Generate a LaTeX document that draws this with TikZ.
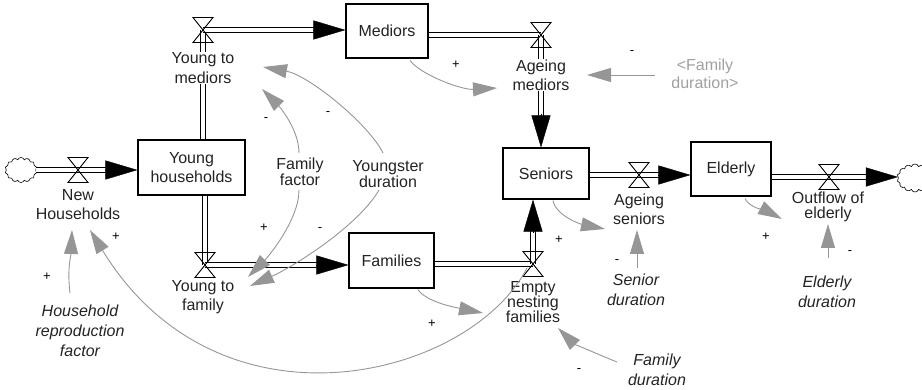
\documentclass[tikz,border=0pt]{standalone}
\usepackage{fontspec}
\setmainfont{Liberation Sans}
\usetikzlibrary{arrows.meta,calc,shapes.symbols}
\definecolor{cgray}{RGB}{150,150,150}
\definecolor{lgray}{RGB}{160,160,160}
\definecolor{txt}{RGB}{35,35,35}
\begin{document}
\begin{tikzpicture}[x=1pt,y=-1pt,
  every node/.style={font=\fontsize{16}{19}\selectfont, text=txt},
  stock/.style={draw=black, line width=1.1pt, fill=white, align=center, inner sep=0pt},
  lab/.style={align=center, inner sep=0.5pt},
  ital/.style={align=center, inner sep=0.5pt, font=\fontsize{16}{20}\selectfont\itshape},
  sign/.style={font=\fontsize{13}{13}\selectfont, text=black, inner sep=0pt},
  pipe/.style={draw=black, line width=1pt, double=white, double distance=4pt},
  fhead/.style={-{Triangle[length=32pt,width=19pt]}, line width=0.4pt, draw=black, fill=black},
  causal/.style={draw=cgray, line width=0.9pt, -{Triangle[length=24pt,width=14pt]}},
  cloudst/.style={cloud, cloud puffs=14, cloud puff arc=140, aspect=1.25, draw=black, line width=0.6pt, fill=white, inner sep=0pt},
  valve/.pic={\draw[line width=0.9pt] (-10,-12.5) -- (10,-12.5) -- (-10,12.5) -- (10,12.5) -- cycle;}
]
\useasboundingbox (0,0) rectangle (922,390);

% clouds
\node[cloudst, minimum width=32pt, minimum height=25pt] (CL) at (21,170) {};
\node[cloudst, minimum width=36pt, minimum height=28pt] (CR) at (915,178) {};

% stocks
\node[stock, minimum width=107pt, minimum height=55pt] (YH) at (191.5,167.5) {Young\\households};
\node[stock, minimum width=82pt, minimum height=54pt] (Med) at (387,31) {Mediors};
\node[stock, minimum width=85pt, minimum height=55pt] (Fam) at (391.5,260.5) {Families};
\node[stock, minimum width=86pt, minimum height=51pt] (Sen) at (546,173.5) {Seniors};
\node[stock, minimum width=80pt, minimum height=54pt] (Eld) at (731,169) {Elderly};

% valves
\coordinate (NH) at (78,170);
\coordinate (YM) at (203,30);
\coordinate (YF) at (205,265);
\coordinate (AM) at (541,35);
\coordinate (EN) at (533,264);
\coordinate (AS) at (639,175);
\coordinate (OE) at (829,177);

% pipes
\draw[pipe, shorten >=31pt] (NH -| CL.east) -- (NH -| YH.west);
\draw[fhead] ($(NH -| YH.west)+(-32,0)$) -- (NH -| YH.west);

\draw[pipe] (YM |- YH.north) -- (YM);
\draw[pipe, shorten >=31pt] (YM) -- (YM -| Med.west);
\draw[fhead] ($(YM -| Med.west)+(-32,0)$) -- (YM -| Med.west);

\draw[pipe] (YF |- YH.south) -- (YF);
\draw[pipe, shorten >=31pt] (YF) -- (YF -| Fam.west);
\draw[fhead] ($(YF -| Fam.west)+(-32,0)$) -- (YF -| Fam.west);

\draw[pipe] (AM -| Med.east) -- (AM);
\draw[pipe, shorten >=31pt] (AM) -- (AM |- Sen.north);
\draw[fhead] ($(AM |- Sen.north)+(0,-33)$) -- (AM |- Sen.north);

\draw[pipe] (EN -| Fam.east) -- (EN);
\draw[pipe, shorten >=31pt] (EN) -- (EN |- Sen.south);
\draw[fhead] ($(EN |- Sen.south)+(0,33)$) -- (EN |- Sen.south);

\draw[pipe, shorten >=31pt] (AS -| Sen.east) -- (AS -| Eld.west);
\draw[fhead] ($(AS -| Eld.west)+(-32,0)$) -- (AS -| Eld.west);

\draw[pipe, shorten >=31pt] (OE -| Eld.east) -- (OE -| CR.west);
\draw[fhead] ($(OE -| CR.west)+(-32,0)$) -- (OE -| CR.west);

\pic at (NH) {valve};
\pic at (YM) {valve};
\pic at (YF) {valve};
\pic at (AM) {valve};
\pic at (EN) {valve};
\pic at (AS) {valve};
\pic at (OE) {valve};

% flow labels
\node[lab] (NHl) at (78,205) {New\\Households};
\node[lab, fill=white, font=\fontsize{16}{20}\selectfont] (YMl) at (203,68) {Young to\\mediors};
\node[lab] (YFl) at (203,297) {Young to\\family};
\node[lab, fill=white] (AMl) at (541,75) {Ageing\\mediors};
\node[lab] (ASl) at (639,209) {Ageing\\seniors};
\node[lab, font=\fontsize{16}{14.5}\selectfont] (OEl) at (828,207) {Outflow of\\elderly};
\node[lab, font=\fontsize{16}{15}\selectfont] (ENl) at (533,302) {Empty\\nesting\\families};

% auxiliaries
\node[lab, font=\fontsize{16}{16}\selectfont] (FF) at (300,172) {Family\\factor};
\node[lab, font=\fontsize{16}{14.5}\selectfont] (YD) at (388,174) {Youngster\\duration};
\node[lab, text=lgray, font=\fontsize{16}{18}\selectfont] (FDg) at (705,74) {<Family\\duration>};
\node[ital] (HRF) at (80,331) {Household\\reproduction\\factor};
\node[ital] (SD) at (636,290) {Senior\\duration};
\node[ital] (ED) at (827,292) {Elderly\\duration};
\node[ital] (FD) at (657,370) {Family\\duration};

% causal links
\draw[causal] ([shift={(-10,-38)}]HRF.center) .. controls +(-3,-25) and +(-1,25) .. ([shift={(-6,25)}]NHl.center);
\draw[causal] ([shift={(-6,4)}]EN) .. controls (470,378) and (220,442) .. ([shift={(12,25)}]NHl.center);
\draw[causal] ([shift={(26.5,1)}]Fam.south) .. controls +(8,12) and +(-30,-6) .. ([shift={(-50,11)}]ENl.center);
\draw[causal] ([shift={(7,1)}]Sen.south) .. controls +(3,15) and +(-25,-5) .. ([shift={(-34,20)}]ASl.center);
\draw[causal] ([shift={(1,-22)}]SD.center) -- ([shift={(-2,21)}]ASl.center);
\draw[causal] ([shift={(14,2)}]Eld.south) .. controls +(5,10) and +(-15,-8) .. ([shift={(-46,12)}]OEl.center);
\draw[causal] ([shift={(1,-34)}]ED.center) -- ([shift={(0,17)}]OEl.center);
\draw[causal] ([shift={(-50,1)}]FDg.center) -- ([shift={(46,0)}]AMl.center);
\draw[causal] ([shift={(23,2)}]Med.south) .. controls +(12,15) and +(-35,2) .. ([shift={(-44,13)}]AMl.center);
\draw[causal] ([shift={(-1,-19)}]FF.center) .. controls +(0,-25) and +(15,15) .. ([shift={(59,21)}]YMl.center);
\draw[causal] ([shift={(-5,-21)}]YD.center) .. controls +(-15,-30) and +(45,8) .. ([shift={(60,-1)}]YMl.center);
\draw[causal] ([shift={(-1,18)}]FF.center) .. controls +(0,30) and +(20,-20) .. ([shift={(45,-20)}]YFl.center);
\draw[causal] ([shift={(-9,16)}]YD.center) .. controls +(-20,35) and +(45,-20) .. ([shift={(47,-11)}]YFl.center);
\draw[causal] ([shift={(-40,-8)}]FD.center) .. controls +(-20,-8) and +(15,15) .. ([shift={(25,26)}]ENl.center);

% polarity signs
\node[sign] (s1) at (47,277) {+};
\node[sign] (s2) at (116,237) {+};
\node[sign] (s3) at (432,324) {+};
\node[sign] (s4) at (559,240) {+};
\node[sign] (s5) at (617,262) {-};
\node[sign] (s6) at (766,237) {+};
\node[sign] (s7) at (850,253) {-};
\node[sign] (s8) at (632,53) {-};
\node[sign] (s9) at (456,65) {+};
\node[sign] (s10) at (266,120) {-};
\node[sign] (s11) at (328,114) {-};
\node[sign] (s12) at (264,228) {+};
\node[sign] (s13) at (320,230) {-};
\node[sign] (s14) at (579,371) {-};
\end{tikzpicture}
\end{document}
